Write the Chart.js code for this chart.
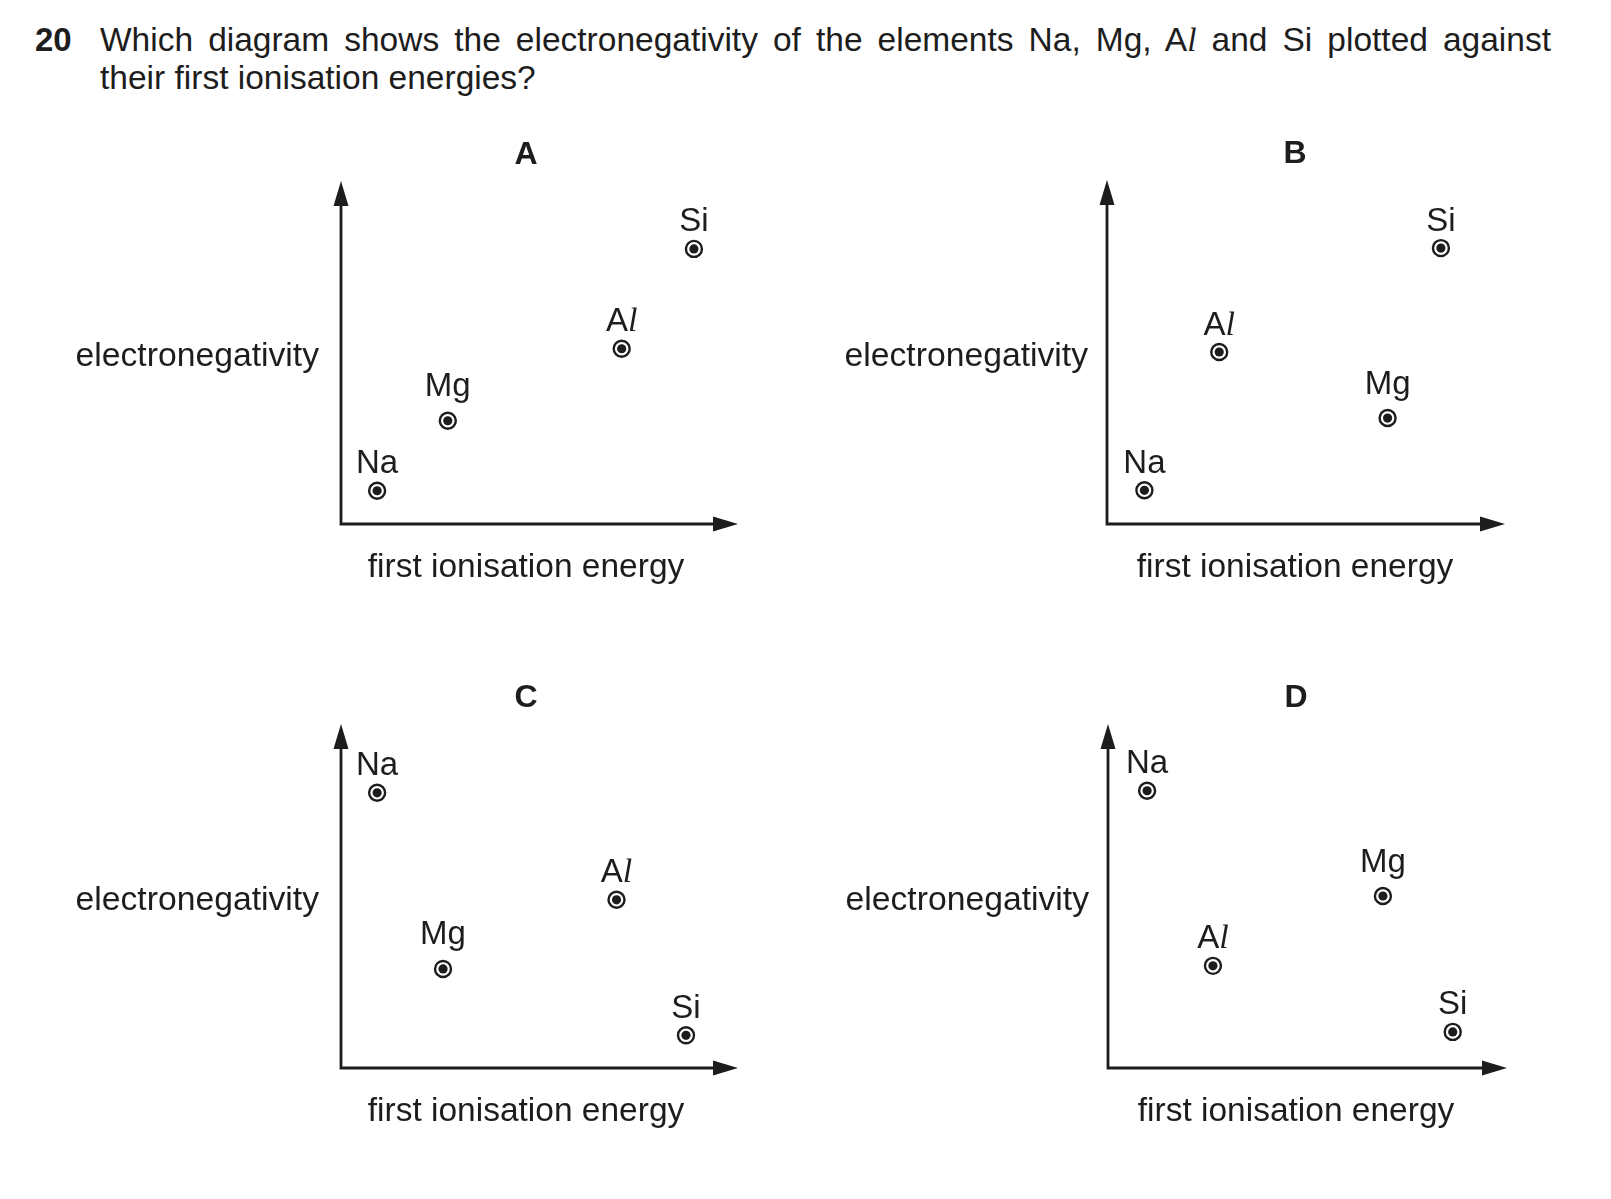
<!DOCTYPE html>
<html>
<head>
<meta charset="utf-8">
<style>
  body { margin:0; background:#fff; width:1611px; height:1199px; position:relative; overflow:hidden;
         font-family:"Liberation Sans", Arial, sans-serif; color:#1d1d1d; }
  #num { position:absolute; left:35px; top:21px; font-weight:bold; font-size:33px; line-height:38px; }
  #question { position:absolute; left:100px; top:21px; width:1451px; font-size:33.5px; line-height:38px; }
  #question .first { text-align:justify; text-align-last:justify; }
  .ital { font-family:"Liberation Serif", serif; font-style:italic; }
  canvas { position:absolute; }
</style>
</head>
<body>
<script src="https://cdn.jsdelivr.net/npm/chart.js"></script>
<div id="num">20</div>
<div id="question">
  <div class="first">Which diagram shows the electronegativity of the elements Na, Mg, A<span class="ital">l</span> and Si plotted against</div>
  <div>their first ionisation energies?</div>
</div>
<script>
    const elements = ["Na", "Mg", "Al", "Si"];
    const diagrams = ["A", "B", "C", "D"];

    // values, axes run 0..100 (no units on the original)
    const ionisationA = [9.1, 26.9, 70.7, 88.9];
    const electronegA = [9.7, 30.1, 51.1, 80.2];
    const ionisationB = [9.4, 70.5, 28.2, 83.9];
    const electronegB = [9.8, 30.8, 50.0, 80.2];
    const ionisationC = [9.1, 25.7, 69.4, 86.9];
    const electronegC = [80.0, 28.8, 48.9, 9.5];
    const ionisationD = [9.8, 68.9, 26.3, 86.4];
    const electronegD = [80.6, 50.0, 29.7, 10.5];

    const xTitle = "first ionisation energy";
    const yTitle = "electronegativity";

    const ink = "#1d1d1d";
    const sans = '"Liberation Sans", Arial, sans-serif';

    const series = {
        A: [ionisationA, electronegA],
        B: [ionisationB, electronegB],
        C: [ionisationC, electronegC],
        D: [ionisationD, electronegD]
    };

    // where each little diagram sits on the page
    const panels = {
        A: { left: 0,   top: 120, width: 800, height: 500, pad: { left: 341, right: 62,  top: 61, bottom: 96 }, mid: 185, gap: 22 },
        B: { left: 800, top: 120, width: 811, height: 500, pad: { left: 307, right: 106, top: 60, bottom: 96 }, mid: 188, gap: 19 },
        C: { left: 0,   top: 650, width: 800, height: 500, pad: { left: 341, right: 62,  top: 74, bottom: 82 }, mid: 185, gap: 22 },
        D: { left: 800, top: 650, width: 811, height: 500, pad: { left: 308, right: 104, top: 74, bottom: 82 }, mid: 188, gap: 19 }
    };

    function drawElementLabel(ctx, name, x, y) {
        // the l in Al is printed as an italic l
        let parts = name === "Al"
            ? [["A", "33px " + sans], ["l", 'italic 34px "Liberation Serif", serif']]
            : [[name, "33px " + sans]];
        let total = 0, descent = 0;
        parts.forEach(p => {
            ctx.font = p[1];
            let m = ctx.measureText(p[0]);
            p.push(m.width);
            total += m.width;
            descent = Math.max(descent, m.actualBoundingBoxDescent || 0);
        });
        let base = y - 17.5 - descent;
        let cx = x - total / 2;
        ctx.textAlign = "left";
        ctx.textBaseline = "alphabetic";
        parts.forEach(p => {
            ctx.font = p[1];
            ctx.fillText(p[0], cx, base);
            cx += p[2];
        });
    }

    const diagramDecor = {
        id: "diagramDecor",
        afterDraw(chart, args, opts) {
            const ctx = chart.ctx;
            const a = chart.chartArea;
            ctx.save();
            ctx.strokeStyle = ink;
            ctx.fillStyle = ink;
            ctx.lineWidth = 2.8;
            ctx.lineJoin = "miter";
            ctx.lineCap = "butt";

            // axes with arrow heads
            ctx.beginPath();
            ctx.moveTo(a.left, a.top + 20);
            ctx.lineTo(a.left, a.bottom);
            ctx.lineTo(a.right - 20, a.bottom);
            ctx.stroke();
            ctx.beginPath();
            ctx.moveTo(a.left, a.top);
            ctx.lineTo(a.left - 7.5, a.top + 25);
            ctx.lineTo(a.left + 7.5, a.top + 25);
            ctx.closePath();
            ctx.fill();
            ctx.beginPath();
            ctx.moveTo(a.right, a.bottom);
            ctx.lineTo(a.right - 25, a.bottom - 7.5);
            ctx.lineTo(a.right - 25, a.bottom + 7.5);
            ctx.closePath();
            ctx.fill();

            // diagram letter and axis titles
            ctx.textBaseline = "alphabetic";
            ctx.textAlign = "center";
            ctx.font = "bold 32px " + sans;
            ctx.fillText(opts.letter, a.left + opts.mid, a.top - 17);
            ctx.font = "33.5px " + sans;
            ctx.fillText(xTitle, a.left + opts.mid, a.bottom + 53);
            ctx.font = "33.7px " + sans;
            ctx.textAlign = "right";
            ctx.fillText(yTitle, a.left - opts.gap, a.bottom - 158);

            // element symbols above each point
            const meta = chart.getDatasetMeta(0);
            meta.data.forEach((pt, i) => drawElementLabel(ctx, elements[i], pt.x, pt.y));
            ctx.restore();
        }
    };

    diagrams.forEach(letter => {
        const p = panels[letter];
        const canvas = document.createElement("canvas");
        canvas.width = p.width;
        canvas.height = p.height;
        canvas.style.left = p.left + "px";
        canvas.style.top = p.top + "px";
        canvas.style.width = p.width + "px";
        canvas.style.height = p.height + "px";
        document.body.appendChild(canvas);

        const xs = series[letter][0];
        const ys = series[letter][1];
        const ringPts = elements.map((e, i) => ({ x: xs[i], y: ys[i] }));
        const dotPts = elements.map((e, i) => ({ x: xs[i], y: ys[i] }));

        new Chart(canvas, {
            type: "scatter",
            data: {
                datasets: [
                    { label: "ring", data: ringPts, clip: false, pointRadius: 8, pointBorderWidth: 2.4,
                      pointBackgroundColor: "rgba(0,0,0,0)", pointBorderColor: ink },
                    { label: "dot", data: dotPts, clip: false, pointRadius: 4.6, pointBorderWidth: 0,
                      pointBackgroundColor: ink, pointBorderColor: ink }
                ]
            },
            options: {
                responsive: false,
                animation: false,
                events: [],
                layout: { padding: p.pad },
                scales: {
                    x: { type: "linear", min: 0, max: 100, display: false },
                    y: { type: "linear", min: 0, max: 100, display: false }
                },
                plugins: {
                    legend: { display: false },
                    tooltip: { enabled: false },
                    diagramDecor: { letter: letter, mid: p.mid, gap: p.gap }
                }
            },
            plugins: [diagramDecor]
        });
    });
</script>
</body>
</html>
